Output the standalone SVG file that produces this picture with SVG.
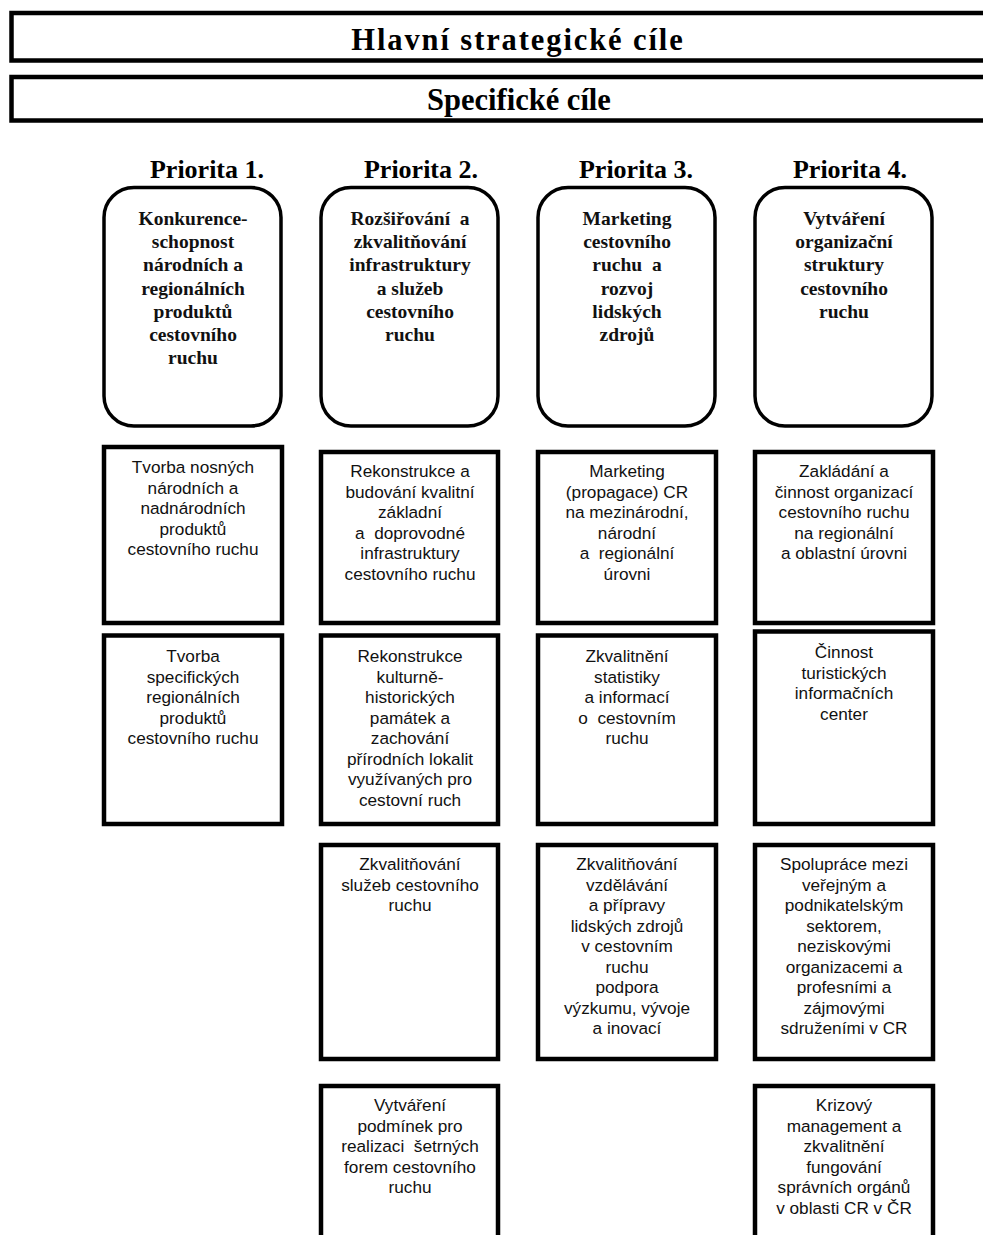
<svg xmlns="http://www.w3.org/2000/svg" width="983" height="1235" viewBox="0 0 983 1235">
<style>
.band{fill:#fff;stroke:#000;stroke-width:4.5}
.prio{fill:#fff;stroke:#000;stroke-width:3.5}
.box{fill:#fff;stroke:#000;stroke-width:4.5}
.title{font-family:"Liberation Serif","Times New Roman",serif;font-weight:bold;font-size:30.5px;fill:#000;text-anchor:middle}
.ph{font-family:"Liberation Serif","Times New Roman",serif;font-weight:bold;font-size:26px;fill:#000;text-anchor:middle}
.pt{font-family:"Liberation Serif","Times New Roman",serif;font-weight:bold;font-size:19.5px;fill:#111;text-anchor:middle;white-space:pre}
.bt{font-family:"Liberation Sans",Arial,sans-serif;font-size:17.2px;fill:#111;text-anchor:middle;white-space:pre}
</style>
<rect width="983" height="1235" fill="#fff"/>
<g id="hlavni">
<rect class="band" x="11.5" y="13" width="990" height="47.5"/>
<text class="title" x="518" y="50" letter-spacing="1.9">Hlavní strategické cíle</text>
</g>
<g id="specificke">
<rect class="band" x="11.5" y="77" width="990" height="43.5"/>
<text class="title" x="519" y="110">Specifické cíle</text>
</g>
<g id="p1-head"><text class="ph" x="207" y="178">Priorita 1.</text></g>
<g id="p2-head"><text class="ph" x="421" y="178">Priorita 2.</text></g>
<g id="p3-head"><text class="ph" x="636" y="178">Priorita 3.</text></g>
<g id="p4-head"><text class="ph" x="850" y="178">Priorita 4.</text></g>

<g id="p1">
<rect class="prio" x="104" y="187.5" width="177" height="238.5" rx="30"/>
<text class="pt" x="193" y="225">Konkurence-</text>
<text class="pt" x="193" y="248.2">schopnost</text>
<text class="pt" x="193" y="271.4">národních a</text>
<text class="pt" x="193" y="294.6">regionálních</text>
<text class="pt" x="193" y="317.8">produktů</text>
<text class="pt" x="193" y="341">cestovního</text>
<text class="pt" x="193" y="364.2">ruchu</text>
</g>
<g id="p2">
<rect class="prio" x="321" y="187.5" width="177" height="238.5" rx="30"/>
<text class="pt" x="410" y="225">Rozšiřování  a</text>
<text class="pt" x="410" y="248.2">zkvalitňování</text>
<text class="pt" x="410" y="271.4">infrastruktury</text>
<text class="pt" x="410" y="294.6">a služeb</text>
<text class="pt" x="410" y="317.8">cestovního</text>
<text class="pt" x="410" y="341">ruchu</text>
</g>
<g id="p3">
<rect class="prio" x="538" y="187.5" width="177" height="238.5" rx="30"/>
<text class="pt" x="627" y="225">Marketing</text>
<text class="pt" x="627" y="248.2">cestovního</text>
<text class="pt" x="627" y="271.4">ruchu  a</text>
<text class="pt" x="627" y="294.6">rozvoj</text>
<text class="pt" x="627" y="317.8">lidských</text>
<text class="pt" x="627" y="341">zdrojů</text>
</g>
<g id="p4">
<rect class="prio" x="755" y="187.5" width="177" height="238.5" rx="30"/>
<text class="pt" x="844" y="225">Vytváření</text>
<text class="pt" x="844" y="248.2">organizační</text>
<text class="pt" x="844" y="271.4">struktury</text>
<text class="pt" x="844" y="294.6">cestovního</text>
<text class="pt" x="844" y="317.8">ruchu</text>
</g>

<g id="c1-1">
<rect class="box" x="104" y="447" width="178" height="176"/>
<text class="bt" x="193" y="473">Tvorba nosných</text>
<text class="bt" x="193" y="493.5">národních a</text>
<text class="bt" x="193" y="514">nadnárodních</text>
<text class="bt" x="193" y="534.5">produktů</text>
<text class="bt" x="193" y="555">cestovního ruchu</text>
</g>
<g id="c1-2">
<rect class="box" x="104" y="635.5" width="178" height="188.5"/>
<text class="bt" x="193" y="662">Tvorba</text>
<text class="bt" x="193" y="682.5">specifických</text>
<text class="bt" x="193" y="703">regionálních</text>
<text class="bt" x="193" y="723.5">produktů</text>
<text class="bt" x="193" y="744">cestovního ruchu</text>
</g>

<g id="c2-1">
<rect class="box" x="321" y="452" width="177" height="171"/>
<text class="bt" x="410" y="477">Rekonstrukce a</text>
<text class="bt" x="410" y="497.5">budování kvalitní</text>
<text class="bt" x="410" y="518">základní</text>
<text class="bt" x="410" y="538.5">a  doprovodné</text>
<text class="bt" x="410" y="559">infrastruktury</text>
<text class="bt" x="410" y="579.5">cestovního ruchu</text>
</g>
<g id="c2-2">
<rect class="box" x="321" y="635.5" width="177" height="188.5"/>
<text class="bt" x="410" y="662">Rekonstrukce</text>
<text class="bt" x="410" y="682.5">kulturně-</text>
<text class="bt" x="410" y="703">historických</text>
<text class="bt" x="410" y="723.5">památek a</text>
<text class="bt" x="410" y="744">zachování</text>
<text class="bt" x="410" y="764.5">přírodních lokalit</text>
<text class="bt" x="410" y="785">využívaných pro</text>
<text class="bt" x="410" y="805.5">cestovní ruch</text>
</g>
<g id="c2-3">
<rect class="box" x="321" y="845" width="177" height="214"/>
<text class="bt" x="410" y="870">Zkvalitňování</text>
<text class="bt" x="410" y="890.5">služeb cestovního</text>
<text class="bt" x="410" y="911">ruchu</text>
</g>
<g id="c2-4">
<rect class="box" x="321" y="1086" width="177" height="160"/>
<text class="bt" x="410" y="1111">Vytváření</text>
<text class="bt" x="410" y="1131.5">podmínek pro</text>
<text class="bt" x="410" y="1152">realizaci  šetrných</text>
<text class="bt" x="410" y="1172.5">forem cestovního</text>
<text class="bt" x="410" y="1193">ruchu</text>
</g>

<g id="c3-1">
<rect class="box" x="538" y="452" width="178" height="171"/>
<text class="bt" x="627" y="477">Marketing</text>
<text class="bt" x="627" y="497.5">(propagace) CR</text>
<text class="bt" x="627" y="518">na mezinárodní,</text>
<text class="bt" x="627" y="538.5">národní</text>
<text class="bt" x="627" y="559">a  regionální</text>
<text class="bt" x="627" y="579.5">úrovni</text>
</g>
<g id="c3-2">
<rect class="box" x="538" y="635.5" width="178" height="188.5"/>
<text class="bt" x="627" y="662">Zkvalitnění</text>
<text class="bt" x="627" y="682.5">statistiky</text>
<text class="bt" x="627" y="703">a informací</text>
<text class="bt" x="627" y="723.5">o  cestovním</text>
<text class="bt" x="627" y="744">ruchu</text>
</g>
<g id="c3-3">
<rect class="box" x="538" y="845" width="178" height="214"/>
<text class="bt" x="627" y="870">Zkvalitňování</text>
<text class="bt" x="627" y="890.5">vzdělávání</text>
<text class="bt" x="627" y="911">a přípravy</text>
<text class="bt" x="627" y="931.5">lidských zdrojů</text>
<text class="bt" x="627" y="952">v cestovním</text>
<text class="bt" x="627" y="972.5">ruchu</text>
<text class="bt" x="627" y="993">podpora</text>
<text class="bt" x="627" y="1013.5">výzkumu, vývoje</text>
<text class="bt" x="627" y="1034">a inovací</text>
</g>

<g id="c4-1">
<rect class="box" x="755" y="452" width="178" height="171"/>
<text class="bt" x="844" y="477">Zakládání a</text>
<text class="bt" x="844" y="497.5">činnost organizací</text>
<text class="bt" x="844" y="518">cestovního ruchu</text>
<text class="bt" x="844" y="538.5">na regionální</text>
<text class="bt" x="844" y="559">a oblastní úrovni</text>
</g>
<g id="c4-2">
<rect class="box" x="755" y="631.5" width="178" height="192.5"/>
<text class="bt" x="844" y="658">Činnost</text>
<text class="bt" x="844" y="678.5">turistických</text>
<text class="bt" x="844" y="699">informačních</text>
<text class="bt" x="844" y="719.5">center</text>
</g>
<g id="c4-3">
<rect class="box" x="755" y="845" width="178" height="214"/>
<text class="bt" x="844" y="870">Spolupráce mezi</text>
<text class="bt" x="844" y="890.5">veřejným a</text>
<text class="bt" x="844" y="911">podnikatelským</text>
<text class="bt" x="844" y="931.5">sektorem,</text>
<text class="bt" x="844" y="952">neziskovými</text>
<text class="bt" x="844" y="972.5">organizacemi a</text>
<text class="bt" x="844" y="993">profesními a</text>
<text class="bt" x="844" y="1013.5">zájmovými</text>
<text class="bt" x="844" y="1034">sdruženími v CR</text>
</g>
<g id="c4-4">
<rect class="box" x="755" y="1086" width="178" height="160"/>
<text class="bt" x="844" y="1111">Krizový</text>
<text class="bt" x="844" y="1131.5">management a</text>
<text class="bt" x="844" y="1152">zkvalitnění</text>
<text class="bt" x="844" y="1172.5">fungování</text>
<text class="bt" x="844" y="1193">správních orgánů</text>
<text class="bt" x="844" y="1213.5">v oblasti CR v ČR</text>
</g>
</svg>
